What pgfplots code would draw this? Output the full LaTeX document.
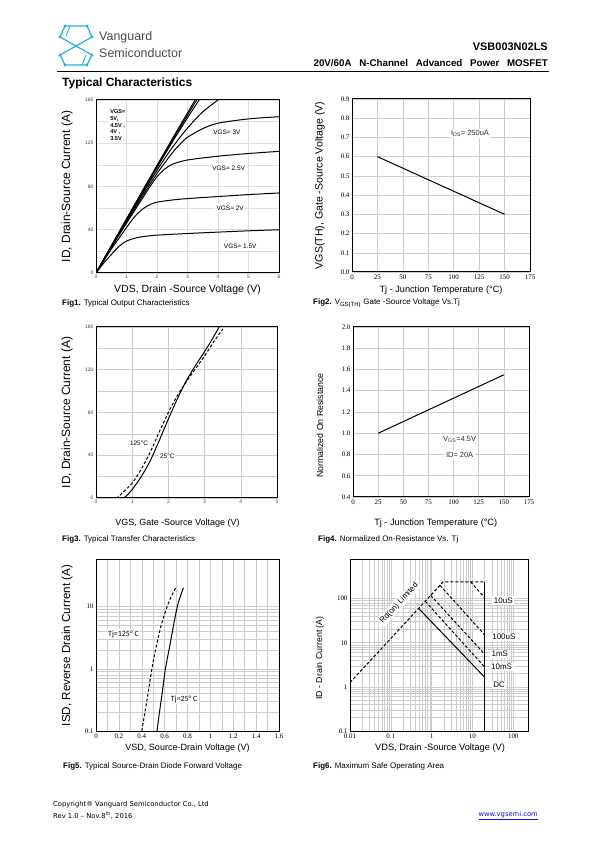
\documentclass[border=0pt]{standalone}
\usepackage{fontspec}
\setmainfont{Liberation Sans}
\newfontfamily\serf{Liberation Serif}
\newfontfamily\calf{Carlito}
\newfontfamily\dvs{DejaVu Sans}
\usepackage{pgfplots}
\pgfplotsset{compat=1.18}
\definecolor{gridc}{RGB}{205,205,205}
\definecolor{gridf}{RGB}{222,222,222}
\definecolor{logoc}{RGB}{40,178,210}
\definecolor{linkc}{RGB}{20,20,220}
\newcommand{\fs}[1]{\fontsize{#1}{#1}\selectfont}
\tikzset{lab/.style={fill=white, inner sep=1.5pt}}
\pgfplotsset{
  ds/.style={scale only axis, anchor=south west,
    axis line style={line width=1pt},
    tick style={draw=none},
    grid style={gridc, line width=0.5pt},
    /pgf/number format/assume math mode=true,
    xticklabel style={yshift=1pt},
    yticklabel style={xshift=1pt}},
  crv/.style={black, line width=1pt, no marks, smooth},
  dsh/.style={black, line width=1pt, no marks, dash pattern=on 3pt off 2pt},
}
\begin{document}
\begin{tikzpicture}[x=1bp,y=1bp]
\path[fill=white] (0,0) rectangle (595,842);
% ---------- header ----------
\begin{scope}[logoc, line width=1.2pt]
\draw (87,842-26)--(65,842-26)--(60,842-37)--(92,842-55)--(87,842-65)--(65,842-65)--(60,842-55)--(92,842-37)--cycle;
\draw[line width=0.9pt] (70,842-26)--(66,842-36) (82,842-65)--(86,842-55);
\foreach \p in {(87,842-26),(65,842-26),(60,842-37),(92,842-55),(87,842-65),(65,842-65),(60,842-55),(92,842-37)}
  \fill \p circle (1.6);
\end{scope}
\node[anchor=west, inner sep=0, text=black!70] at (99,842-37) {\fs{12.5}Vanguard};
\node[anchor=west, inner sep=0, text=black!70] at (99,842-53) {\fs{12.5}Semiconductor};
\node[anchor=east, inner sep=0] at (548,842-47) {\fs{11}\bfseries VSB003N02LS};
\node[anchor=east, inner sep=0] at (548,842-63) {\fs{9.8}\bfseries 20V/60A\hspace{5pt} N-Channel\hspace{5pt} Advanced\hspace{5pt} Power\hspace{5pt} MOSFET};
\draw[line width=0.8pt] (57,842-71) -- (549,842-71);
\node[anchor=west, inner sep=0] at (62,842-83) {\fs{12}\bfseries Typical Characteristics};
% ---------- Fig1 ----------
\begin{axis}[ds, at={(96bp,569bp)}, width=183bp, height=173bp,
  xmin=0, xmax=6, ymin=0, ymax=160, grid=both,
  grid style={gridf, line width=0.5pt},
  xtick={0,1,2,3,4,5,6}, ytick={0,40,80,120,160},
  minor ytick={20,60,100,140},
  ticklabel style={font=\fs{5}, text=black!75},
  xlabel={VDS, Drain -Source Voltage (V)},
  ylabel={ID, Drain-Source Current (A)},
  xlabel style={font=\fs{10.5}, at={(axis description cs:0.5,-0.097)}, anchor=center},
  ylabel style={font=\fs{12}, at={(axis description cs:-0.158,0.5)}, anchor=center}]
\addplot[crv] coordinates {(0,0)(0.5,25)(1,50)(1.5,75)(2,99.5)(2.5,124)(3,148)(3.25,160)(3.3,163)};
\addplot[crv] coordinates {(0,0)(0.5,25)(1,49.5)(1.5,74)(2,98.5)(2.5,122.5)(3,146)(3.3,160)(3.35,162)};
\addplot[crv] coordinates {(0,0)(0.5,24.5)(1,49)(1.5,73)(2,97.5)(2.5,121)(3,143.5)(3.38,160)(3.42,162)};
\addplot[crv] coordinates {(0,0)(0.5,24)(1,48)(1.5,72)(2,95)(2.5,116)(3,134)(3.5,149)(4,160)(4.1,162)};
\addplot[crv] coordinates {(0,0)(0.5,24)(1,47)(1.5,70)(2,92)(2.5,111)(2.75,119)(3,125.5)(3.5,133.5)(4,138.5)(5,142.5)(6,144.5)};
\addplot[crv] coordinates {(0,0)(0.5,23.5)(1,46)(1.5,68)(1.75,79)(2,89)(2.25,96)(2.5,100.5)(3,104.5)(4,108)(5,110.5)(6,112.5)};
\addplot[crv] coordinates {(0,0)(0.5,22)(0.75,32)(1,42)(1.25,51.5)(1.5,58.5)(1.75,63)(2,65.5)(2.5,67.5)(3,68.8)(4,70.7)(5,72.5)(6,74)};
\addplot[crv] coordinates {(0,0)(0.25,9)(0.5,17)(0.75,24.5)(1,29.5)(1.25,32)(1.5,33.5)(2,35)(3,36.5)(4,37.8)(5,39)(6,40)};
\node[anchor=north west, align=left, fill=white, inner sep=1pt, font=\fontsize{5.6}{6.7}\selectfont\bfseries] at (axis cs:0.43,152) {VGS=\\5V,\\4.5V ,\\4V ,\\3.5V};
\node[lab, font=\fs{6.5}] at (axis cs:4.29,130) {VGS= 3V};
\node[lab, font=\fs{6.5}] at (axis cs:4.35,96.5) {VGS= 2.5V};
\node[lab, font=\fs{6.5}] at (axis cs:4.4,60) {VGS= 2V};
\node[lab, font=\fs{6.5}] at (axis cs:4.73,25) {VGS= 1.5V};
\end{axis}
\node[anchor=west, inner sep=0] at (62,842-303) {\fs{8}\textbf{Fig1.} Typical Output Characteristics};
% ---------- Fig2 ----------
\begin{axis}[ds, at={(352bp,570bp)}, width=178bp, height=173bp,
  xmin=0, xmax=175, ymin=0, ymax=0.9, grid=major,
  xtick={0,25,50,75,100,125,150,175},
  ytick={0,0.1,0.2,0.3,0.4,0.5,0.6,0.7,0.8,0.9},
  yticklabel style={/pgf/number format/.cd, fixed, fixed zerofill, precision=1},
  ticklabel style={font=\serf\fs{7}},
  xlabel={Tj - Junction Temperature (°C)},
  ylabel={VGS(TH), Gate -Source Voltage (V)},
  xlabel style={font=\fs{9.2}, at={(axis description cs:0.5,-0.104)}, anchor=center},
  ylabel style={font=\fs{10.6}, at={(axis description cs:-0.18,0.5)}, anchor=center}]
\addplot[black, line width=1pt, no marks] coordinates {(25,0.6)(150,0.3)};
\node[lab, font=\fs{7.5}, text=black!80] at (axis cs:116,0.72) {I\textsubscript{DS}= 250uA};
\end{axis}
\node[anchor=west, inner sep=0] at (313,842-303) {\fs{8}\textbf{Fig2.} V\textsubscript{GS(TH)} Gate -Source Voltage Vs.Tj};
% ---------- Fig3 ----------
\begin{axis}[ds, at={(96bp,344bp)}, width=181bp, height=171bp,
  xmin=0, xmax=5, ymin=0, ymax=160, grid=both,
  xtick={0,1,2,3,4,5}, ytick={0,40,80,120,160},
  minor ytick={20,60,100,140},
  ticklabel style={font=\fs{5}, text=black!75},
  xlabel={VGS, Gate -Source Voltage (V)},
  ylabel={ID, Drain-Source Current (A)},
  xlabel style={font=\fs{9}, at={(axis description cs:0.45,-0.146)}, anchor=center},
  ylabel style={font=\fs{12}, at={(axis description cs:-0.16,0.5)}, anchor=center}]
\addplot[crv] coordinates {(0,0)(0.7,0)(0.85,2.5)(1,8)(1.25,20)(1.5,35)(1.75,54)(2,74)(2.25,93)(2.5,110)(2.75,124)(3,137)(3.2,148)(3.4,160)};
\addplot[dsh, smooth] coordinates {(0,0)(0.55,0)(0.7,4)(1,14)(1.25,27)(1.5,43)(1.75,62)(2,80)(2.25,96)(2.5,109)(2.75,121)(3,133)(3.25,146)(3.5,158)};
\node[lab, font=\fs{6.5}] at (axis cs:1.19,51.5) {125°C};
\node[lab, font=\fs{6.5}] at (axis cs:1.97,39) {25°C};
\end{axis}
\node[anchor=west, inner sep=0] at (62,842-539) {\fs{8}\textbf{Fig3.} Typical Transfer Characteristics};
% ---------- Fig4 ----------
\begin{axis}[ds, at={(353bp,345bp)}, width=176bp, height=170bp,
  xmin=0, xmax=175, ymin=0.4, ymax=2.0, grid=major,
  xtick={0,25,50,75,100,125,150,175},
  ytick={0.4,0.6,0.8,1.0,1.2,1.4,1.6,1.8,2.0},
  yticklabel style={/pgf/number format/.cd, fixed, fixed zerofill, precision=1},
  ticklabel style={font=\serf\fs{7}},
  xlabel={Tj - Junction Temperature (°C)},
  ylabel={Normalized On Resistance},
  xlabel style={font=\fs{9.2}, at={(axis description cs:0.47,-0.153)}, anchor=center},
  ylabel style={font=\fs{8.8}, at={(axis description cs:-0.1875,0.42)}, anchor=center}]
\addplot[black, line width=1pt, no marks] coordinates {(25,1.0)(150,1.55)};
\node[lab, font=\fs{7.5}, text=black!80] at (axis cs:106,0.94) {V\textsubscript{GS}=4.5V};
\node[lab, font=\fs{7.5}, text=black!80] at (axis cs:106,0.80) {ID= 20A};
\end{axis}
\node[anchor=west, inner sep=0] at (318,842-539) {\fs{8}\textbf{Fig4.} Normalized On-Resistance Vs. Tj};
% ---------- Fig5 ----------
\begin{axis}[ds, at={(96bp,111bp)}, width=183bp, height=171bp,
  xmin=0, xmax=1.6, ymode=log, ymin=0.1, ymax=56, grid=both,
  xtick={0,0.2,0.4,0.6,0.8,1,1.2,1.4,1.6}, minor x tick num=1,
  ytick={0.1,1,10}, log ticks with fixed point,
  ticklabel style={font=\serf\fs{7}},
  xlabel={VSD, Source-Drain Voltage (V)},
  ylabel={ISD, Reverse Drain Current (A)},
  xlabel style={font=\fs{9.1}, at={(axis description cs:0.5,-0.1)}, anchor=center},
  ylabel style={font=\fs{11.7}, at={(axis description cs:-0.158,0.5)}, anchor=center}]
\addplot[crv] coordinates {(0.533,0.1)(0.555,0.2)(0.578,0.4)(0.607,1)(0.638,2)(0.678,5)(0.711,10)(0.74,15)(0.764,20)};
\addplot[dsh, smooth] coordinates {(0.4,0.1)(0.428,0.2)(0.455,0.4)(0.489,1)(0.52,2)(0.57,5)(0.622,10)(0.662,15)(0.696,20)};
\node[lab, font=\calf\fs{8}] at (axis cs:0.24,3.6) {Tj=125° C};
\node[lab, font=\calf\fs{8}] at (axis cs:0.77,0.32) {Tj=25° C};
\end{axis}
\node[anchor=west, inner sep=0] at (63,842-766) {\fs{8}\textbf{Fig5.} Typical Source-Drain Diode Forward Voltage};
% ---------- Fig6 ----------
\begin{axis}[ds, at={(350bp,111bp)}, width=178bp, height=171bp,
  xmode=log, ymode=log, xmin=0.01, xmax=230, ymin=0.1, ymax=750, grid=both,
  xtick={0.01,0.1,1,10,100}, ytick={0.1,1,10,100}, log ticks with fixed point,
  ticklabel style={font=\serf\fs{7}},
  xlabel={VDS, Drain -Source Voltage (V)},
  ylabel={ID - Drain Current (A)},
  xlabel style={font=\fs{9.3}, at={(axis description cs:0.506,-0.1)}, anchor=center},
  ylabel style={font=\fs{8.8}, at={(axis description cs:-0.169,0.427)}, anchor=center}]
\addplot[dsh] coordinates {(0.01,1.25)(1.92,240)(20,240)};
\addplot[dsh] coordinates {(9,240)(20,105)};
\addplot[dsh] coordinates {(1.6,200)(20,15)};
\addplot[dsh] coordinates {(0.95,118)(20,5.5)};
\addplot[dsh] coordinates {(0.7,87)(20,2.8)};
\addplot[black, line width=1pt, no marks] coordinates {(0.48,60)(20,1.65)};
\addplot[black, line width=1.2pt, no marks] coordinates {(20,240)(20,0.1)};
\node[lab, font=\fs{8}, rotate=47] at (axis cs:0.16,78) {Rd(on) Limited};
\node[lab, font=\fs{8}] at (axis cs:57,90) {10uS};
\node[lab, font=\fs{8}] at (axis cs:59,13.4) {100uS};
\node[lab, font=\fs{8}] at (axis cs:47,5.6) {1mS};
\node[lab, font=\fs{8}] at (axis cs:52,2.8) {10mS};
\node[lab, font=\fs{8}] at (axis cs:45,1.1) {DC};
\end{axis}
\node[anchor=west, inner sep=0] at (313,842-766) {\fs{8}\textbf{Fig6.} Maximum Safe Operating Area};
% ---------- footer ----------
\node[anchor=west, inner sep=0] at (53,842-805) {\dvs\fs{6.8}Copyright® Vanguard Semiconductor Co., Ltd};
\node[anchor=west, inner sep=0] at (53,842-816) {\dvs\fs{6.8}Rev 1.0 – Nov.8\textsuperscript{th}, 2016};
\node[anchor=east, inner sep=0, text=linkc] at (538,842-816) {\dvs\fs{6.8}\underline{www.vgsemi.com}};
\end{tikzpicture}
\end{document}
